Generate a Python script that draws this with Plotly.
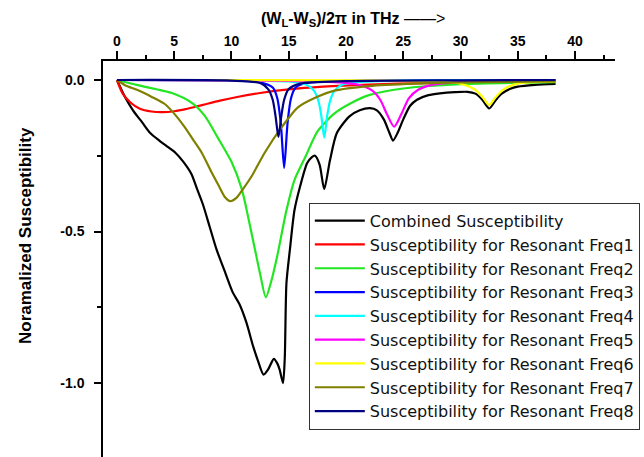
import plotly.graph_objects as go

# ---- data ----
combined_x = [0, 0.7, 1.4, 2.2, 2.9, 3.7, 4.4, 5.1, 5.8, 6.5, 7.0, 7.5, 8.1, 8.7, 9.3, 10.1, 10.7,
              11.3, 11.9, 12.3, 12.8, 13.2, 13.7, 14.0, 14.2, 14.5, 14.65, 14.8, 15.1, 15.5, 16.0,
              16.6, 17.0, 17.3, 17.7, 18.1, 18.6, 19.2, 20.3, 21.2, 22.1, 22.7, 23.3, 23.8, 24.1,
              24.5, 25.0, 25.6, 26.2, 27.2, 28.2, 29.5, 30.6, 31.3, 31.9, 32.5, 33.1, 33.6, 34.3,
              35.0, 36.5, 38.3]
combined_y = [0, -0.056, -0.10, -0.14, -0.175, -0.20, -0.22, -0.24, -0.27, -0.31, -0.36, -0.41,
              -0.485, -0.56, -0.62, -0.70, -0.74, -0.80, -0.88, -0.925, -0.972, -0.955, -0.92,
              -0.935, -0.955, -1.0, -0.92, -0.67, -0.56, -0.43, -0.35, -0.275, -0.255, -0.25,
              -0.28, -0.36, -0.265, -0.175, -0.12, -0.10, -0.093, -0.10, -0.13, -0.175, -0.20,
              -0.175, -0.13, -0.085, -0.065, -0.05, -0.044, -0.04, -0.039, -0.045, -0.065, -0.094,
              -0.065, -0.045, -0.03, -0.022, -0.016, -0.013]

freq1_x = [0, 0.5, 1.2, 2.0, 3.0, 4.0, 5.0, 6.0, 7.5, 9.0, 10.5, 12.5, 15.0, 18.0, 22.0, 27.0, 32.0, 38.3]
freq1_y = [0, -0.045, -0.075, -0.095, -0.104, -0.106, -0.103, -0.096, -0.082, -0.068, -0.056,
           -0.043, -0.031, -0.022, -0.015, -0.010, -0.007, -0.005]

freq2_x = [0, 1.8, 4.8, 6.6, 7.7, 8.8, 10.0, 10.9, 11.5, 12.0, 12.5, 13.0, 13.5, 14.0, 14.8,
           15.5, 16.5, 17.5, 19.0, 20.5, 22.0, 25.0, 30.0, 38.3]
freq2_y = [0, -0.017, -0.043, -0.077, -0.12, -0.19, -0.27, -0.36, -0.46, -0.55, -0.64, -0.717,
           -0.66, -0.58, -0.43, -0.33, -0.25, -0.17, -0.11, -0.075, -0.05, -0.028, -0.014, -0.007]

freq3_x = [0, 10, 12.5, 13.6, 14.0, 14.3, 14.6, 14.9, 15.2, 15.6, 16.5, 20, 30, 38.3]
freq3_y = [0, -0.002, -0.008, -0.025, -0.06, -0.14, -0.29, -0.14, -0.06, -0.025, -0.01, -0.003, -0.001, 0]

freq4_x = [0, 10, 15, 16.5, 17.2, 17.6, 17.85, 18.1, 18.35, 18.6, 19.0, 19.7, 21, 25, 38.3]
freq4_y = [0, -0.001, -0.005, -0.015, -0.035, -0.07, -0.12, -0.19, -0.12, -0.07, -0.035,
           -0.015, -0.007, -0.002, 0]

freq5_x = [0, 15, 19, 21, 22.3, 23.0, 23.6, 24.2, 24.8, 25.5, 26.3, 27.5, 30, 38.3]
freq5_y = [0, -0.003, -0.007, -0.015, -0.035, -0.066, -0.115, -0.154, -0.115, -0.06, -0.032,
           -0.016, -0.007, -0.003]

freq6_x = [0, 20, 28, 30, 31.2, 31.9, 32.5, 33.1, 33.8, 35, 38.3]
freq6_y = [0, -0.001, -0.005, -0.012, -0.03, -0.055, -0.083, -0.055, -0.03, -0.012, -0.005]

freq7_x = [0, 0.7, 1.8, 3.0, 4.2, 5.2, 5.9, 6.7, 7.4, 8.2, 8.9, 9.4, 9.9, 10.4, 11.0, 11.8,
           12.9, 14.4, 15.8, 17.5, 19.0, 22.0, 26.0, 30.0, 38.3]
freq7_y = [0, -0.017, -0.033, -0.055, -0.08, -0.12, -0.155, -0.2, -0.24, -0.3, -0.35, -0.385,
           -0.40, -0.39, -0.36, -0.315, -0.24, -0.155, -0.09, -0.055, -0.035, -0.02, -0.012,
           -0.008, -0.005]

freq8_x = [0, 10, 12.5, 13.2, 13.6, 13.85, 14.1, 14.35, 14.6, 15.0, 16, 20, 30, 38.3]
freq8_y = [0, -0.002, -0.01, -0.03, -0.065, -0.12, -0.188, -0.12, -0.065, -0.03, -0.012, -0.004, -0.001, 0]

series_names = ["Combined Susceptibility"] + [f"Susceptibility for Resonant Freq{i}" for i in range(1, 9)]
series_x = [combined_x, freq1_x, freq2_x, freq3_x, freq4_x, freq5_x, freq6_x, freq7_x, freq8_x]
series_y = [combined_y, freq1_y, freq2_y, freq3_y, freq4_y, freq5_y, freq6_y, freq7_y, freq8_y]
colors = ["#000000", "#ff0000", "#22e622", "#0000ff", "#00ffff", "#ff00ff", "#ffff00", "#808000", "#000080"]

x_ticks = [0, 5, 10, 15, 20, 25, 30, 35, 40]
y_ticks = [0.0, -0.5, -1.0]

fig = go.Figure()
for name, xs, ys, c in zip(series_names, series_x, series_y, colors):
    fig.add_trace(go.Scatter(x=xs, y=ys, mode="lines", name=name,
                             line=dict(color=c, width=2.2, shape="spline", smoothing=0.7)))

axis_font = dict(family="Arial, Liberation Sans, sans-serif", size=14, color="black")

fig.update_layout(
    width=644, height=457,
    margin=dict(l=103, r=29, t=61, b=0),
    paper_bgcolor="white", plot_bgcolor="white",
    font=dict(family="Arial, Liberation Sans, sans-serif", color="black"),
    showlegend=True,
    legend=dict(x=0.402, y=0.642, xanchor="left", yanchor="top",
                bgcolor="white", bordercolor="#333333", borderwidth=1,
                itemwidth=50,
                font=dict(family="DejaVu Sans, sans-serif", size=16, color="#111111"),
                tracegroupgap=0),
    xaxis=dict(side="top", range=[-1.22, 43.49], showgrid=False, zeroline=False,
               showline=True, linecolor="black", linewidth=1.5,
               ticks="outside", ticklen=8, tickwidth=1.5, tickcolor="black",
               tickvals=x_ticks, ticktext=[f"<b>{v}</b>" for v in x_ticks],
               tickfont=axis_font,
               minor=dict(dtick=2.5, tick0=0, ticks="outside", ticklen=4, tickwidth=1.5, tickcolor="black")),
    yaxis=dict(range=[-1.244, 0.0627], showgrid=False, zeroline=False,
               showline=True, linecolor="black", linewidth=1.5,
               ticks="outside", ticklen=7, tickwidth=1.5, tickcolor="black",
               ticklabelstandoff=7,
               tickvals=y_ticks, ticktext=[f"<b>{v:.1f}</b>" for v in y_ticks],
               tickfont=axis_font,
               minor=dict(dtick=0.25, tick0=0, ticks="outside", ticklen=4, tickwidth=1.5, tickcolor="black")),
)

fig.add_annotation(text="<b>(W<sub>L</sub>-W<sub>S</sub>)/2π in THz</b> ——>",
                   xref="paper", yref="paper", x=(353 - 103) / 512, y=1 + (61 - 20) / 396,
                   xanchor="center", yanchor="middle", showarrow=False,
                   font=dict(family="Arial, Liberation Sans, sans-serif", size=16, color="black"))
fig.add_annotation(text="<b>Noramalized Susceptibility</b>", textangle=-90,
                   xref="paper", yref="paper", x=(25 - 103) / 512, y=(457 - 236) / 396,
                   xanchor="center", yanchor="middle", showarrow=False,
                   font=dict(family="Arial, Liberation Sans, sans-serif", size=17, color="black"))

fig.write_html("out.html", config={"displayModeBar": False},
               post_script="document.body.style.margin='0';document.body.style.padding='0';"
                           "document.documentElement.style.overflow='hidden';")
